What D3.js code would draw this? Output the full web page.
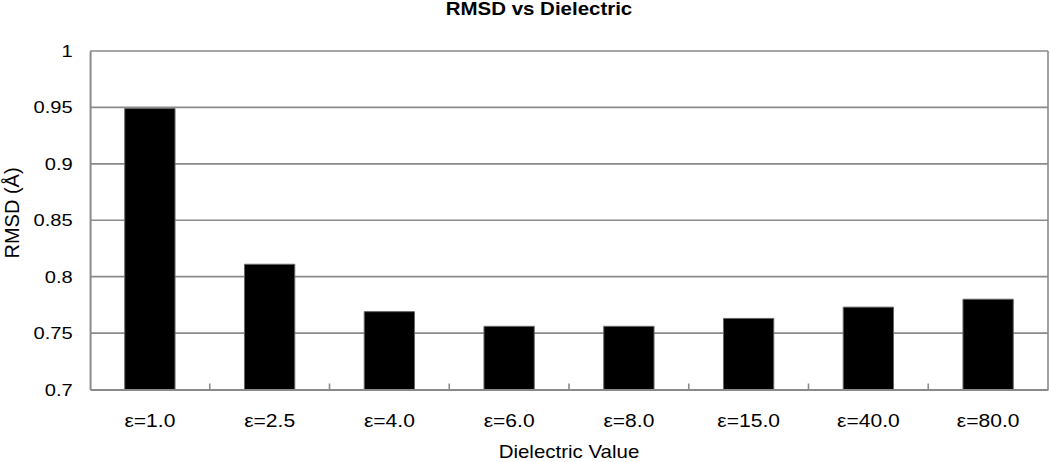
<!DOCTYPE html>
<html><head><meta charset="utf-8">
<script src="https://cdn.jsdelivr.net/npm/d3@7"></script>
<style>html,body{margin:0;padding:0;background:#fff;overflow:hidden}svg{display:block}</style>
</head><body><svg id="chart"></svg>
<script>
const categories = ["ε=1.0", "ε=2.5", "ε=4.0", "ε=6.0", "ε=8.0", "ε=15.0", "ε=40.0", "ε=80.0"];
const rmsdValues = [0.949, 0.811, 0.769, 0.756, 0.756, 0.763, 0.773, 0.780];
const yTicks = [0.7, 0.75, 0.8, 0.85, 0.9, 0.95, 1];
const yTickLabels = ["0.7", "0.75", "0.8", "0.85", "0.9", "0.95", "1"];
const chartTitle = "RMSD vs Dielectric";
const xTitle = "Dielectric Value";
const yTitle = "RMSD (Å)";

(function () {
const W = 1050, H = 462, SX = 1.17, VW = W / SX;
const FONT = "'Liberation Sans', Arial, sans-serif";
const GRID = "#8a8a8a";

const svg = d3.select("#chart")
  .attr("width", W).attr("height", H)
  .attr("viewBox", `0 0 ${VW} ${H}`)
  .attr("preserveAspectRatio", "none")
  .style("font-family", FONT);

svg.append("rect").attr("width", VW).attr("height", H).attr("fill", "#fff");

const pLeft = 90 / SX, pRight = 1048 / SX, pTop = 51, pBottom = 389.5;

const x = d3.scaleBand().domain(categories).range([pLeft, pRight])
  .paddingInner(0.58).paddingOuter(0.29);
const y = d3.scaleLinear().domain([0.7, 1]).range([pBottom, pTop]);

// gridlines
svg.append("g").selectAll("line").data(yTicks.filter(d => d > 0.7)).join("line")
  .attr("x1", pLeft).attr("x2", pRight)
  .attr("y1", d => y(d)).attr("y2", d => y(d))
  .attr("stroke", GRID).attr("stroke-width", 1.6)
  .attr("vector-effect", "non-scaling-stroke");

// right border
svg.append("line").attr("x1", pRight).attr("x2", pRight).attr("y1", pTop).attr("y2", pBottom)
  .attr("stroke", GRID).attr("stroke-width", 1.6).attr("vector-effect", "non-scaling-stroke");

// bars
svg.append("g").selectAll("rect").data(categories).join("rect")
  .attr("x", d => x(d)).attr("width", x.bandwidth())
  .attr("y", (d, i) => y(rmsdValues[i]))
  .attr("height", (d, i) => y(0.7) - y(rmsdValues[i]))
  .attr("fill", "#000").attr("stroke", "#666").attr("stroke-width", 1)
  .attr("vector-effect", "non-scaling-stroke");

// y axis
const yAxis = svg.append("g").attr("transform", `translate(${pLeft},0)`)
  .call(d3.axisLeft(y).tickValues(yTicks).tickFormat((d, i) => yTickLabels[i])
    .tickSize(0).tickSizeOuter(0).tickPadding(14.8));
yAxis.select(".domain").attr("stroke", GRID).attr("stroke-width", 2).attr("vector-effect", "non-scaling-stroke");
yAxis.selectAll("text").attr("font-size", 17.2).attr("font-family", FONT).attr("fill", "#000");

// x axis
const xAxis = svg.append("g").attr("transform", `translate(0,${pBottom})`)
  .call(d3.axisBottom(x).tickSize(0).tickSizeOuter(0));
xAxis.select(".domain").attr("stroke", GRID).attr("stroke-width", 2).attr("vector-effect", "non-scaling-stroke");
xAxis.selectAll("text").attr("font-size", 18).attr("font-family", FONT).attr("fill", "#000")
  .attr("y", 37.2).attr("dy", 0);

// category separator ticks
const step = x.step();
svg.append("g").selectAll("line").data(categories.slice(1)).join("line")
  .attr("x1", d => x(d) - step * x.paddingInner() / 2)
  .attr("x2", d => x(d) - step * x.paddingInner() / 2)
  .attr("y1", pBottom).attr("y2", pBottom - 6)
  .attr("stroke", GRID).attr("stroke-width", 1.6).attr("vector-effect", "non-scaling-stroke");

// titles
svg.append("text").attr("x", 539 / SX).attr("y", 15)
  .attr("text-anchor", "middle").attr("font-weight", "bold").attr("font-size", 17.5)
  .text(chartTitle);

svg.append("text").attr("x", (pLeft + pRight) / 2).attr("y", 458)
  .attr("text-anchor", "middle").attr("font-size", 17.5)
  .text(xTitle);

svg.append("text")
  .attr("transform", `translate(${19 / SX},${213}) scale(${1 / SX},1) rotate(-90)`)
  .attr("text-anchor", "middle").attr("font-size", 20)
  .text(yTitle);
})();
</script>
</body></html>
